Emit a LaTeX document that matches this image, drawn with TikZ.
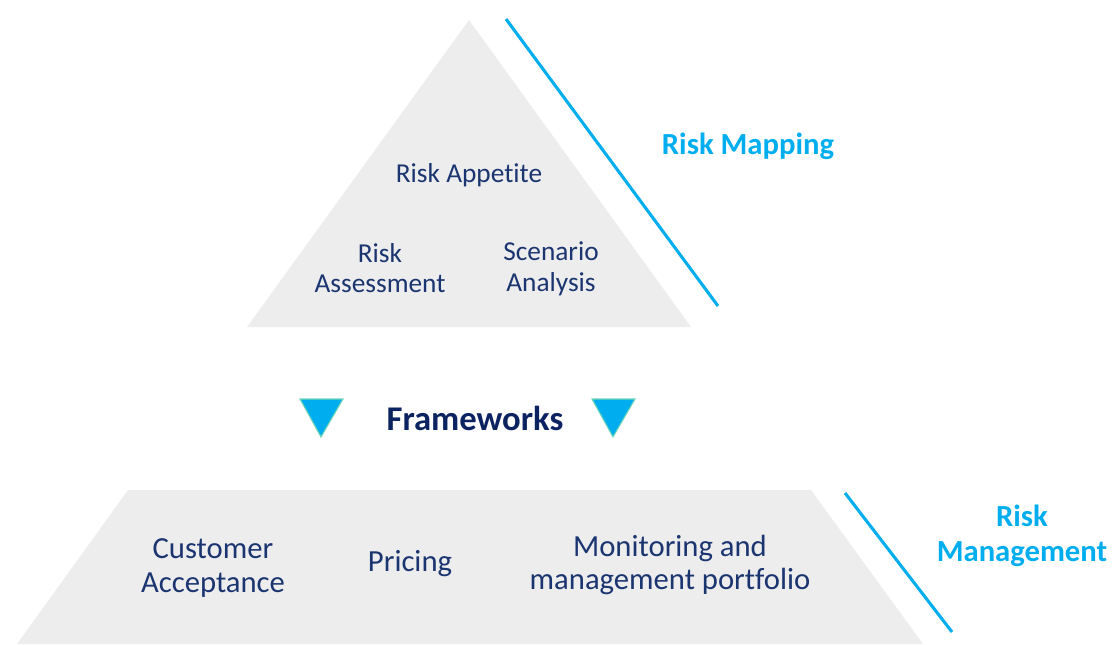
\documentclass[tikz,border=0pt]{standalone}
\usepackage{fontspec}
\setmainfont{Carlito}[Ligatures=NoCommon]
\usetikzlibrary{calc}
\definecolor{riskgray}{HTML}{EDEDED}
\definecolor{risknavy}{HTML}{1B3571}
\definecolor{framenavy}{HTML}{0C2361}
\definecolor{riskcyan}{HTML}{00AEEF}
\definecolor{riskmint}{HTML}{6FD6B8}
\begin{document}
\begin{tikzpicture}[x=0.75pt,y=-0.75pt,thick,
		item/.style={text=risknavy,align=center,font=\fontsize{20.5}{23}\selectfont},
		lowitem/.style={text=risknavy,align=center,font=\fontsize{23}{25}\selectfont},
		side/.style={text=riskcyan,align=center,font=\fontsize{23}{26}\selectfont\bfseries},
		divider/.style={draw=riskcyan,line width=2.3pt},
		marker/.style={fill=riskcyan,draw=riskmint,line width=0.8pt},
	]
	\useasboundingbox (0,0) rectangle (1113,644);
	% pyramid shapes
	\fill[riskgray] (469,20) -- (691,327) -- (247,327) -- cycle;
	\fill[riskgray] (128,490) -- (811,490) -- (923,644) -- (17,644) -- cycle;
	\draw[divider] (506,19) -- (718,306);
	\draw[divider] (845,493) -- (952,632);
	\draw[marker] (300,399) -- (343,399) -- (321,437) -- cycle;
	\draw[marker] (592,399) -- (635,399) -- (613,437) -- cycle;
	% texts
	\node[item,anchor=base] (appetite) at (469,182) {Risk Appetite};
	\node[item] (assess) at (380,268) {Risk\\Assessment};
	\node[item] (scenario) at (551,269) {Scenario\\Analysis};
	\node[anchor=base,text=framenavy,font=\fontsize{26}{28}\selectfont\bfseries]
		(frame) at (475,430) {Frameworks};
	\node[side,anchor=base] (mapping) at (748,154) {Risk Mapping};
	\node[side] (management) at (1022,536) {Risk\\Management};
	\node[lowitem] (customer) at (213,568) {Customer\\Acceptance};
	\node[lowitem,anchor=base] (pricing) at (410,571) {Pricing};
	\node[lowitem] (monitor) at (670,565) {Monitoring and\\management portfolio};
\end{tikzpicture}
\end{document}
